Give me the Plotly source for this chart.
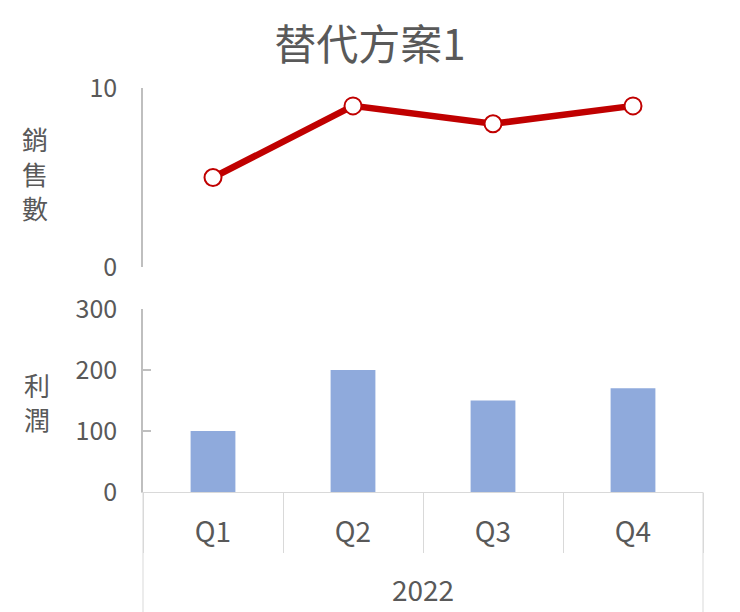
import plotly.graph_objects as go
from plotly.subplots import make_subplots

title = "替代方案1"
year = "2022"
quarters = ["Q1", "Q2", "Q3", "Q4"]
sales = [5, 9, 8, 9]
profit = [100, 200, 150, 170]
sales_label = ["銷", "售", "數"]
profit_label = ["利", "潤"]

FONT = "Noto Sans CJK TC, Noto Sans, sans-serif"
TXT = "#595959"
AX = "#BFBFBF"
CAT = "#D9D9D9"

fig = make_subplots(rows=2, cols=1, shared_xaxes=True)

fig.add_trace(go.Scatter(
    x=quarters, y=sales, mode="lines+markers",
    line=dict(color="#C00000", width=6.5),
    marker=dict(size=17, color="white", line=dict(color="#C00000", width=2)),
    showlegend=False), row=1, col=1)

fig.add_trace(go.Bar(
    x=quarters, y=profit, marker=dict(color="#8FAADC", line=dict(width=0)),
    width=0.32, showlegend=False), row=2, col=1)

W, H = 740, 612
def px(v): return v / W
def py(v): return 1 - v / H

annotations = []
for i, ch in enumerate(sales_label):
    annotations.append(dict(text=ch, xref="paper", yref="paper",
                            x=px(35), y=py(139 + 34 * i), xanchor="center", yanchor="middle",
                            showarrow=False, borderpad=0,
                            font=dict(size=26, color=TXT, family=FONT)))
for i, ch in enumerate(profit_label):
    annotations.append(dict(text=ch, xref="paper", yref="paper",
                            x=px(37), y=py(384 + 34 * i), xanchor="center", yanchor="middle",
                            showarrow=False, borderpad=0,
                            font=dict(size=26, color=TXT, family=FONT)))
annotations.append(dict(text=year, xref="x2 domain", yref="paper",
                        x=0.5, y=py(589), xanchor="center", yanchor="middle",
                        showarrow=False, font=dict(size=28, color=TXT, family=FONT)))

shapes = [
    dict(type="line", xref="x2 domain", yref="paper", x0=0, x1=0, y0=py(492), y1=0,
         line=dict(color=CAT, width=1)),
    dict(type="line", xref="x2 domain", yref="paper", x0=1, x1=1, y0=py(492), y1=0,
         line=dict(color=CAT, width=1)),
]

fig.update_layout(
    width=W, height=H,
    margin=dict(l=0, r=0, t=0, b=0),
    paper_bgcolor="white", plot_bgcolor="white",
    font=dict(family=FONT, color=TXT, size=24),
    title=dict(text=title, x=0.5, xanchor="center", y=py(45), yanchor="middle",
               font=dict(size=42, color=TXT, family=FONT)),
    xaxis=dict(domain=[px(143), px(703)], visible=False, range=[-0.5, 3.5],
               type="category", automargin=False),
    xaxis2=dict(domain=[px(143), px(703)], range=[-0.5, 3.5], type="category",
                showline=True, linecolor=CAT, linewidth=1,
                ticks="outside", tickson="boundaries", ticklen=60,
                tickcolor=CAT, tickwidth=1, ticklabelstandoff=15,
                tickfont=dict(size=28, color=TXT), showgrid=False, automargin=False),
    yaxis=dict(domain=[py(267), py(88)], range=[0, 10], tickvals=[0, 10],
               showline=True, linecolor=AX, linewidth=1.5,
               ticks="inside", ticklen=8, tickcolor=AX, tickwidth=1.5,
               showgrid=False, zeroline=False, ticklabelstandoff=19, automargin=False,
               tickfont=dict(size=25, color=TXT)),
    yaxis2=dict(domain=[py(492), py(309)], range=[0, 300], dtick=100,
                showline=True, linecolor=AX, linewidth=1.5,
                ticks="inside", ticklen=8, tickcolor=AX, tickwidth=1.5,
                showgrid=False, zeroline=False, ticklabelstandoff=19, automargin=False,
                tickfont=dict(size=25, color=TXT)),
    annotations=annotations,
    shapes=shapes,
)

fig.write_html("out.html", config={"displayModeBar": False},
               post_script="document.body.style.margin='0';")
